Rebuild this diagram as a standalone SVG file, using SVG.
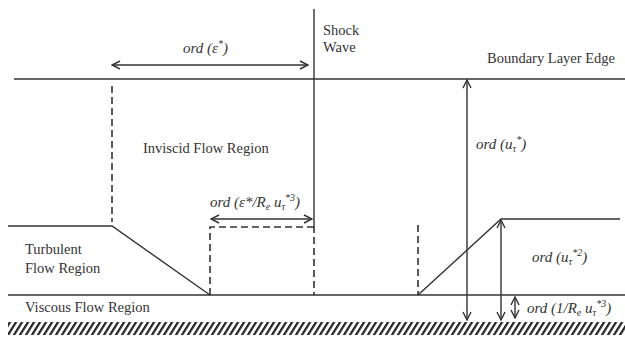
<svg xmlns="http://www.w3.org/2000/svg" width="625" height="338" viewBox="0 0 625 338">
<style>
.ln{fill:none;stroke:#333;stroke-width:1.4}
.ds{fill:none;stroke:#333;stroke-width:1.6;stroke-dasharray:7 4}
.ar{fill:none;stroke:#333;stroke-width:1.4;marker-start:url(#ah);marker-end:url(#ah)}
.lb{font-family:"Liberation Serif","Times New Roman",serif;font-size:14.5px;fill:#333}
.it{font-family:"Liberation Serif","Times New Roman",serif;font-size:15px;font-style:italic;fill:#333}
.sm{font-size:10px}
</style>
<defs>
<marker id="ah" viewBox="0 0 10 10" refX="9" refY="5" markerWidth="10" markerHeight="10" markerUnits="userSpaceOnUse" orient="auto-start-reverse">
<path d="M1,1 L9,5 L1,9" fill="none" stroke="#333" stroke-width="1.4"/>
</marker>
<pattern id="hatch" patternUnits="userSpaceOnUse" width="6" height="20" patternTransform="skewX(-32)">
<rect x="0" y="0" width="2.6" height="20" fill="#222"/>
</pattern>
</defs>
<g id="wall"><rect x="8" y="322" width="617" height="13" fill="url(#hatch)"/></g>
<g id="connectors">
<path class="ln" d="M14,79 H625"/>
<path class="ln" d="M314,9 V226"/>
<path class="ds" d="M314,226 V295"/>
<path class="ln" d="M8,226 H112 L210,295"/>
<path class="ln" d="M8,295 H625"/>
<path class="ln" d="M418,295 L501,219 H620"/>
<path class="ds" d="M112,86 V222"/>
<path class="ds" d="M210,295 V227 H314"/>
<path class="ds" d="M418,225 V295"/>
<path class="ar" d="M112,65 H308"/>
<path class="ar" d="M211,219 H312"/>
<path class="ar" d="M467,80 V320"/>
<path class="ar" d="M501,220 V320"/>
<path class="ar" d="M515,297 V318"/>
</g>
<g id="shock-label"><text class="lb" x="323" y="35">Shock</text><text class="lb" x="323" y="52">Wave</text></g>
<g id="boundary-label"><text class="lb" x="487" y="63">Boundary Layer Edge</text></g>
<g id="inviscid"><text class="lb" x="143" y="153">Inviscid Flow Region</text></g>
<g id="turbulent"><text class="lb" x="25" y="254">Turbulent</text><text class="lb" x="25" y="273">Flow Region</text></g>
<g id="viscous"><text class="lb" x="25" y="312">Viscous Flow Region</text></g>
<g id="ord-eps"><text class="it" x="183" y="53">ord (ε<tspan class="sm" dy="-6">*</tspan><tspan dy="6">)</tspan></text></g>
<g id="ord-eps-re"><text class="it" x="210" y="207">ord (ε*/R<tspan class="sm" dy="3">e</tspan><tspan dy="-3"> u</tspan><tspan class="sm" dy="3">τ</tspan><tspan class="sm" dy="-9">*3</tspan><tspan dy="6">)</tspan></text></g>
<g id="ord-u"><text class="it" x="476" y="149">ord (u<tspan class="sm" dy="3">τ</tspan><tspan class="sm" dy="-9">*</tspan><tspan dy="6">)</tspan></text></g>
<g id="ord-u2"><text class="it" x="532" y="262">ord (u<tspan class="sm" dy="3">τ</tspan><tspan class="sm" dy="-9">*2</tspan><tspan dy="6">)</tspan></text></g>
<g id="ord-1re"><text class="it" x="527" y="313">ord (1/R<tspan class="sm" dy="3">e</tspan><tspan dy="-3"> u</tspan><tspan class="sm" dy="3">τ</tspan><tspan class="sm" dy="-9">*3</tspan><tspan dy="6">)</tspan></text></g>
</svg>
